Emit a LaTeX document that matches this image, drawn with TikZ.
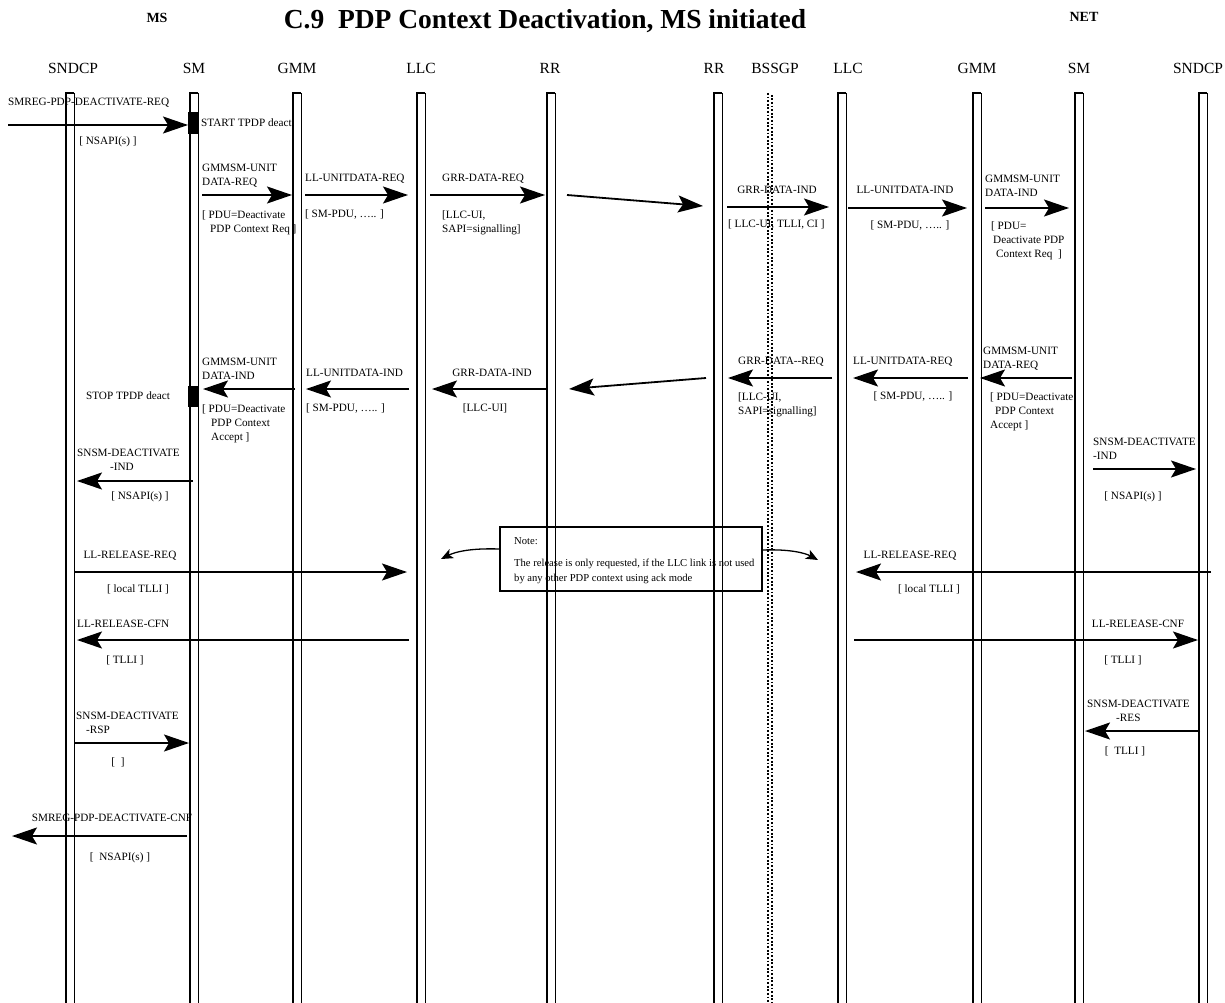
\documentclass[tikz,border=0pt]{standalone}
\usepackage{fontspec}
\setmainfont{Liberation Serif}
\usetikzlibrary{arrows.meta}
\begin{document}
\begin{tikzpicture}[x=1pt,y=-1pt,
  every node/.style={inner sep=0pt},
  lbl/.style={font=\fontsize{11.2}{14}\selectfont, align=left},
  hdr/.style={font=\fontsize{15.5}{18}\selectfont},
  ttl/.style={font=\bfseries\fontsize{27.5}{30}\selectfont},
  side/.style={font=\bfseries\fontsize{14}{16}\selectfont},
  msg/.style={line width=1.8pt, -{Stealth[length=25pt,width=17pt,inset=5pt]}},
  notearrow/.style={line width=1.3pt, -{Stealth[length=12pt,width=10pt,inset=3pt]}},
  llthick/.style={line width=1.5pt},
  llthin/.style={line width=1pt},
  timerbar/.style={fill=black, draw=none, minimum width=10pt},
  notebox/.style={draw, line width=1.2pt, minimum width=262pt, minimum height=64pt},
  notetxt/.style={font=\fontsize{10.6}{15}\selectfont, align=left},
  dots/.style={line width=1.8pt, dash pattern=on 1.8pt off 1.8pt}
]
\useasboundingbox (0,0) rectangle (1225,1003);

% titles
\node[side] (ms) at (157,18) {MS};
\node[side] (net) at (1084,17) {NET};
\node[ttl] (title) at (545,21) {C.9~~PDP Context Deactivation, MS initiated};

% headers
\node[hdr] (h1) at (73,68) {SNDCP};
\node[hdr] (h2) at (194,68) {SM};
\node[hdr] (h3) at (297,68) {GMM};
\node[hdr] (h4) at (421,68) {LLC};
\node[hdr] (h5) at (550,68) {RR};
\node[hdr] (h6) at (714,68) {RR};
\node[hdr] (h7) at (775,68) {BSSGP};
\node[hdr] (h8) at (848,68) {LLC};
\node[hdr] (h9) at (977,68) {GMM};
\node[hdr] (h10) at (1079,68) {SM};
\node[hdr] (h11) at (1198,68) {SNDCP};

% lifelines
\foreach \x in {70,194,297,421,551,718,842,977,1079,1203}{
  \draw[llthick] (\x-4,1006) -- (\x-4,93) -- (\x+4,93);
  \draw[llthin] (\x+4,93) -- (\x+4,1006);
}
% BSSGP dotted lifeline
\draw[dots] (768,93) -- (768,1006);
\draw[dots, dash phase=1.8pt] (771.6,93) -- (771.6,1006);

% timer bars
\node[timerbar, minimum height=22pt] (tstart) at (193,123) {};
\node[timerbar, minimum height=21pt] (tstop) at (193,396.5) {};
\node[lbl, anchor=west] (tstartl) at (201,123) {START TPDP deact};
\node[lbl] (tstopl) at (128,396) {STOP TPDP deact};

% ---- forward direction ----
\coordinate (a1s) at (8,125);   \coordinate (a1e) at (188,125);
\draw[msg] (a1s) -- (a1e);
\node[lbl, anchor=west] (a1l) at (8,103) {SMREG-PDP-DEACTIVATE-REQ};
\node[lbl] (a1p) at (108,142) {[ NSAPI(s) ]};

\coordinate (a2s) at (202,195); \coordinate (a2e) at (292,195);
\draw[msg] (a2s) -- (a2e);
\node[lbl, anchor=north west] (a2l) at (202,164.3) {GMMSM-UNIT\\DATA-REQ};
\node[lbl, anchor=north west] (a2p) at (202,210.3) {[ PDU=Deactivate\\\hspace*{8pt}PDP Context Req ]};

\coordinate (a3s) at (305,195); \coordinate (a3e) at (408,195);
\draw[msg] (a3s) -- (a3e);
\node[lbl, anchor=west] (a3l) at (305,179) {LL-UNITDATA-REQ};
\node[lbl, anchor=west] (a3p) at (305,214) {[ SM-PDU, ….. ]};

\coordinate (a4s) at (430,195); \coordinate (a4e) at (545,195);
\draw[msg] (a4s) -- (a4e);
\node[lbl, anchor=west] (a4l) at (442,179) {GRR-DATA-REQ};
\node[lbl, anchor=north west] (a4p) at (442,210.3) {[LLC-UI,\\SAPI=signalling]};

\coordinate (a5s) at (567,195); \coordinate (a5e) at (703,206);
\draw[msg] (a5s) -- (a5e);

\coordinate (a6s) at (727,207); \coordinate (a6e) at (829,207);
\draw[msg] (a6s) -- (a6e);
\node[lbl] (a6l) at (777,190) {GRR-DATA-IND};
\node[lbl, anchor=west] (a6p) at (728,224) {[ LLC-UI, TLLI, CI ]};

\coordinate (a7s) at (848,208); \coordinate (a7e) at (967,208);
\draw[msg] (a7s) -- (a7e);
\node[lbl] (a7l) at (905,190) {LL-UNITDATA-IND};
\node[lbl] (a7p) at (910,225) {[ SM-PDU, ….. ]};

\coordinate (a8s) at (985,208); \coordinate (a8e) at (1069,208);
\draw[msg] (a8s) -- (a8e);
\node[lbl, anchor=north west] (a8l) at (985,175.3) {GMMSM-UNIT\\DATA-IND};
\node[lbl, anchor=north west] (a8p) at (991,221.3) {[ PDU=\\\hspace*{2pt}Deactivate PDP\\\hspace*{5pt}Context Req~~]};

% ---- return direction ----
\coordinate (b1s) at (1072,378); \coordinate (b1e) at (980,378);
\draw[msg] (b1s) -- (b1e);
\node[lbl, anchor=north west] (b1l) at (983,347.3) {GMMSM-UNIT\\DATA-REQ};
\node[lbl, anchor=north west] (b1p) at (990,392.3) {[ PDU=Deactivate\\\hspace*{5pt}PDP Context\\Accept ]};

\coordinate (b2s) at (968,378); \coordinate (b2e) at (853,378);
\draw[msg] (b2s) -- (b2e);
\node[lbl, anchor=west] (b2l) at (853,362) {LL-UNITDATA-REQ};
\node[lbl] (b2p) at (913,396) {[ SM-PDU, ….. ]};

\coordinate (b3s) at (832,378); \coordinate (b3e) at (728,378);
\draw[msg] (b3s) -- (b3e);
\node[lbl, anchor=west] (b3l) at (738,362) {GRR-DATA-{}-REQ};
\node[lbl, anchor=north west] (b3p) at (738,392.3) {[LLC-UI,\\SAPI=signalling]};

\coordinate (b4s) at (706,378); \coordinate (b4e) at (569,389);
\draw[msg] (b4s) -- (b4e);

\coordinate (b5s) at (547,389); \coordinate (b5e) at (432,389);
\draw[msg] (b5s) -- (b5e);
\node[lbl] (b5l) at (492,373) {GRR-DATA-IND};
\node[lbl] (b5p) at (485,408) {[LLC-UI]};

\coordinate (b6s) at (409,389); \coordinate (b6e) at (306,389);
\draw[msg] (b6s) -- (b6e);
\node[lbl, anchor=west] (b6l) at (306,373) {LL-UNITDATA-IND};
\node[lbl, anchor=west] (b6p) at (306,408) {[ SM-PDU, ….. ]};

\coordinate (b7s) at (295,389); \coordinate (b7e) at (203,389);
\draw[msg] (b7s) -- (b7e);
\node[lbl, anchor=north west] (b7l) at (202,358.3) {GMMSM-UNIT\\DATA-IND};
\node[lbl, anchor=north west] (b7p) at (202,404.3) {[ PDU=Deactivate\\\hspace*{9pt}PDP Context\\\hspace*{9pt}Accept ]};

\coordinate (b8s) at (193,481); \coordinate (b8e) at (77,481);
\draw[msg] (b8s) -- (b8e);
\node[lbl, anchor=north west] (b8l) at (77,449.3) {SNSM-DEACTIVATE\\\hspace*{33pt}-IND};
\node[lbl] (b8p) at (140,497) {[ NSAPI(s) ]};

\coordinate (b9s) at (1093,469); \coordinate (b9e) at (1196,469);
\draw[msg] (b9s) -- (b9e);
\node[lbl, anchor=north west] (b9l) at (1093,438.3) {SNSM-DEACTIVATE\\-IND};
\node[lbl] (b9p) at (1133,497) {[ NSAPI(s) ]};

% ---- note ----
\node[notebox] (note) at (631,559) {};
\node[notetxt, anchor=west] (notehd) at (514,541) {Note:};
\node[notetxt, anchor=north west] (notebody) at (514,558.5) {The release is only requested, if the LLC link is not used\\by any other PDP context using ack mode};
\coordinate (nl) at (441,559);
\coordinate (nr) at (818,560);
\draw[notearrow] ([yshift=10pt]note.west) .. controls (470,548) and (455,552) .. (nl);
\draw[notearrow] ([yshift=9pt]note.east) .. controls (790,549) and (805,553) .. (nr);

% ---- release ----
\coordinate (c1s) at (75,572); \coordinate (c1e) at (407,572);
\draw[msg] (c1s) -- (c1e);
\node[lbl] (c1l) at (130,556) {LL-RELEASE-REQ};
\node[lbl] (c1p) at (138,589) {[ local TLLI ]};

\coordinate (c2s) at (1211,572); \coordinate (c2e) at (856,572);
\draw[msg] (c2s) -- (c2e);
\node[lbl] (c2l) at (910,556) {LL-RELEASE-REQ};
\node[lbl] (c2p) at (929,589) {[ local TLLI ]};

\coordinate (c3s) at (409,640); \coordinate (c3e) at (77,640);
\draw[msg] (c3s) -- (c3e);
\node[lbl, anchor=west] (c3l) at (77,624) {LL-RELEASE-CFN};
\node[lbl] (c3p) at (125,660) {[ TLLI ]};

\coordinate (c4s) at (854,640); \coordinate (c4e) at (1198,640);
\draw[msg] (c4s) -- (c4e);
\node[lbl] (c4l) at (1138,624) {LL-RELEASE-CNF};
\node[lbl] (c4p) at (1123,660) {[ TLLI ]};

% ---- deactivate response ----
\coordinate (d1s) at (75,743); \coordinate (d1e) at (189,743);
\draw[msg] (d1s) -- (d1e);
\node[lbl, anchor=north west] (d1l) at (76,712.3) {SNSM-DEACTIVATE\\\hspace*{10pt}-RSP};
\node[lbl] (d1p) at (118,762) {[~~]};

\coordinate (d2s) at (1200,731); \coordinate (d2e) at (1085,731);
\draw[msg] (d2s) -- (d2e);
\node[lbl, anchor=north west] (d2l) at (1087,700.3) {SNSM-DEACTIVATE\\\hspace*{29pt}-RES};
\node[lbl] (d2p) at (1125,751) {[~~TLLI ]};

% ---- confirm ----
\coordinate (e1s) at (187,836); \coordinate (e1e) at (12,836);
\draw[msg] (e1s) -- (e1e);
\node[lbl] (e1l) at (112,818) {SMREG-PDP-DEACTIVATE-CNF};
\node[lbl] (e1p) at (120,858) {[~~NSAPI(s) ]};
\end{tikzpicture}
\end{document}
